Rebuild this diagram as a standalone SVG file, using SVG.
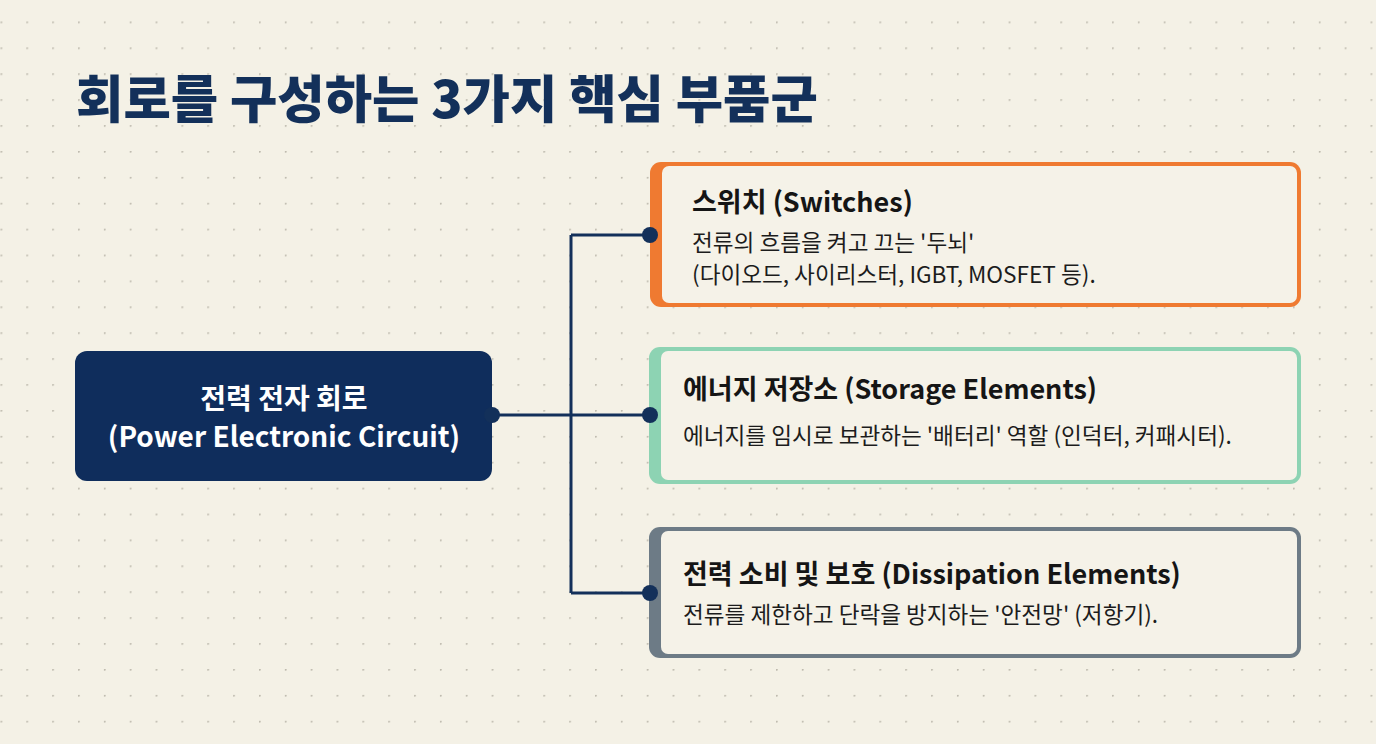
<svg xmlns="http://www.w3.org/2000/svg" width="1376" height="744" viewBox="0 0 1376 744">
<defs>
<pattern id="dots" x="0.5" y="21.5" width="25.85" height="25.9" patternUnits="userSpaceOnUse">
<circle cx="0.8" cy="0.8" r="1" fill="#bdb9ad"/>
</pattern>
<style>
.title{font-family:"Noto Sans CJK KR","Noto Sans",sans-serif;font-weight:900;font-size:51.5px;fill:#13305a}
.main{font-family:"Noto Sans CJK KR","Noto Sans",sans-serif;font-weight:700;font-size:28px;fill:#ffffff}
.ct{font-family:"Noto Sans CJK KR","Noto Sans",sans-serif;font-weight:700;font-size:27px;fill:#151515}
.cd{font-family:"Noto Sans CJK KR","Noto Sans",sans-serif;font-weight:400;font-size:22.6px;fill:#1c1c1c}
.inner{fill:#f5f2e8}
.wire{fill:none;stroke:#13305a;stroke-width:3}
.dot{fill:#13305a}
</style>
</defs>
<rect width="1376" height="744" fill="#f4f1e6"/>
<rect width="1376" height="744" fill="url(#dots)"/>
<text class="title" x="76" y="118">회로를 구성하는 3가지 핵심 부품군</text>
<g id="main">
<rect x="75" y="351" width="417" height="130" rx="12" fill="#0f2d5c"/>
<text class="main" x="284" y="409" text-anchor="middle">전력 전자 회로</text>
<text class="main" x="284" y="447" text-anchor="middle">(Power Electronic Circuit)</text>
</g>
<g id="switches">
<rect x="650" y="162" width="651" height="145" rx="11" fill="#ef7a31"/>
<rect class="inner" x="662" y="166" width="635" height="137" rx="7"/>
<text class="ct" x="692" y="212">스위치 (Switches)</text>
<text class="cd" x="692" y="251">전류의 흐름을 켜고 끄는 '두뇌'</text>
<text class="cd" x="692" y="283">(다이오드, 사이리스터, IGBT, MOSFET 등).</text>
</g>
<g id="storage">
<rect x="649" y="347" width="652" height="137" rx="11" fill="#8dd3b3"/>
<rect class="inner" x="661" y="351" width="636" height="129" rx="7"/>
<text class="ct" x="683" y="399">에너지 저장소 (Storage Elements)</text>
<text class="cd" x="683" y="444">에너지를 임시로 보관하는 '배터리' 역할 (인덕터, 커패시터).</text>
</g>
<g id="dissipation">
<rect x="649" y="527" width="652" height="131" rx="11" fill="#6d7b86"/>
<rect class="inner" x="661" y="531" width="636" height="123" rx="7"/>
<text class="ct" x="683" y="584">전력 소비 및 보호 (Dissipation Elements)</text>
<text class="cd" x="683" y="623">전류를 제한하고 단락을 방지하는 '안전망' (저항기).</text>
</g>
<g id="connectors">
<path class="wire" d="M492 415 H571 M571 235 V593 M571 235 H650 M571 593 H650 M571 415 H650"/>
<circle class="dot" cx="492" cy="415" r="8"/>
<circle class="dot" cx="650" cy="235" r="8"/>
<circle class="dot" cx="650" cy="415" r="8"/>
<circle class="dot" cx="650" cy="593" r="8"/>
</g>
</svg>
